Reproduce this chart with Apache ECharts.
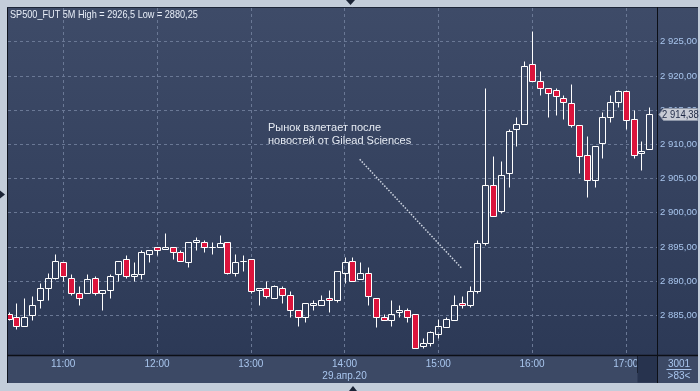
<!DOCTYPE html>
<html>
<head>
<meta charset="utf-8">
<script src="https://cdn.jsdelivr.net/npm/echarts@6/dist/echarts.min.js"></script>
<style>html,body{margin:0;padding:0;background:#c3cdda;}#chart{width:700px;height:391px;}</style>
</head>
<body>
<div id="chart"></div>
<script>
// ---- data (5-minute bars, SP500 futures, 29.04.20) ----
var times = ['10:25','10:30','10:35','10:40','10:45','10:50','10:55','11:00','11:05','11:10','11:15','11:20','11:25','11:30','11:35','11:40','11:45','11:50','11:55','12:00','12:05','12:10','12:15','12:20','12:25','12:30','12:35','12:40','12:45','12:50','12:55','13:00','13:05','13:10','13:15','13:20','13:25','13:30','13:35','13:40','13:45','13:50','13:55','14:00','14:05','14:10','14:15','14:20','14:25','14:30','14:35','14:40','14:45','14:50','14:55','15:00','15:05','15:10','15:15','15:20','15:25','15:30','15:35','15:40','15:45','15:50','15:55','16:00','16:05','16:10','16:15','16:20','16:25','16:30','16:35','16:40','16:45','16:50','16:55','17:00','17:05','17:10','17:15'];
var opens = [2885.25,2884.75,2883.5,2885,2887.25,2889,2890.5,2892.75,2890.5,2888.25,2888.25,2890.5,2888.25,2888.75,2891,2893.25,2890.75,2891,2894,2895,2894.75,2895,2894.25,2892.75,2895.75,2895.75,2895,2895,2895.75,2891.25,2893,2893.25,2888.75,2889,2887.5,2889,2888,2885.75,2884.75,2886.5,2886.5,2887.5,2887.25,2891.25,2893,2890.25,2891.25,2887.5,2884.75,2884.25,2885.5,2885.75,2885.25,2880.5,2881,2882.25,2883.25,2884.25,2886.75,2886.5,2888.5,2895.5,2904,2900.25,2905.75,2912.25,2913,2921.75,2919.25,2918.25,2918,2916.75,2916,2912.75,2908.5,2904.75,2910.25,2914,2916.25,2917.75,2913.75,2908.75,2909.25];
var closes = [2884.5,2883.5,2884.75,2886.5,2889,2890.5,2893,2890.75,2888.25,2887.5,2890.25,2888.25,2888.75,2890.75,2893,2890.75,2891,2894.25,2894.5,2894.5,2895,2894.25,2893,2895.75,2896,2895,2895,2895.5,2891.25,2892.75,2893,2888.5,2889,2887.75,2889.25,2888,2885.75,2884.75,2886.75,2886.75,2887.25,2887.25,2891.5,2892.75,2890,2891.25,2887.75,2884.75,2884.25,2885.25,2885.75,2884.75,2880.25,2881,2882.5,2883.5,2884.5,2886.5,2886.5,2888.5,2895.5,2904,2899.5,2905.5,2912,2913,2921.5,2919.25,2918.25,2917.5,2917,2916.25,2912.75,2908.25,2904.75,2909.75,2914,2916.25,2917.75,2913.5,2908.5,2909,2914.38];
var lows = [2884.25,2883,2883.5,2884.25,2886,2887.25,2890.25,2890,2888,2886.5,2888.25,2888,2885.75,2887.5,2890,2890.5,2890,2890.25,2892.75,2893.75,2894.75,2893.25,2893,2892,2894.5,2894.25,2894,2895,2891,2890.75,2891.5,2888.25,2886.5,2887.5,2887.5,2886.75,2884.75,2883.5,2884,2885.75,2886.5,2885.5,2887,2889.75,2890,2890.25,2886.5,2883.25,2884.25,2883.5,2884.75,2884,2880.25,2880.25,2880.5,2881.75,2883.25,2884.25,2886,2886.25,2888.25,2895.25,2899.5,2900,2903.75,2909.75,2913,2919.25,2917.25,2914,2914.25,2913.75,2912.5,2905.75,2902.25,2903.75,2908,2913.25,2915.5,2912.25,2908,2906.25,2909.25];
var highs = [2885.5,2886.75,2887.5,2887.75,2889.75,2891.25,2894,2892.75,2891,2889.25,2891,2890.75,2888.75,2891,2893,2893.75,2892.75,2894.5,2894.5,2895,2897,2895,2894.5,2895.75,2896.5,2896,2895.75,2896.75,2895.75,2894,2893.75,2893.25,2889,2890,2889.5,2889.25,2888.5,2885.75,2886.75,2887.25,2888,2888.75,2891.5,2893.5,2893.5,2892.75,2892,2887.5,2885.25,2887.25,2886.5,2886,2885.25,2881.75,2882.75,2884.5,2884.75,2888,2887.75,2889.25,2896,2918.25,2908.25,2907.5,2912.25,2914,2922.25,2926.5,2920.75,2918.25,2918.25,2917.25,2918.75,2912.75,2911.25,2909.75,2914.75,2917.25,2918,2918,2915,2910.5,2915.5];
var yTickValues = [2885, 2890, 2895, 2900, 2905, 2910, 2915, 2920, 2925];
var xTickLabels = ['11:00','12:00','13:00','14:00','15:00','16:00','17:00'];
var dateLabel = '29.апр.20';
var dateAtTick = '14:00';
var titleText = 'SP500_FUT 5M High = 2926,5 Low = 2880,25';
var noteText = 'Рынок взлетает после\nновостей от Gilead Sciences';
var barsText = ['3001', '>83<'];

// ---- helpers ----
function toMin(s){ var p = s.split(':'); return (+p[0]) * 60 + (+p[1]); }
function pad(n){ return (n < 10 ? '0' : '') + n; }
function minLabel(m){ return pad(Math.floor(m / 60)) + ':' + pad(Math.round(m % 60)); }
function priceFmt(v){
  var s = v.toFixed(2).split('.');
  var ip = s[0].replace(/\B(?=(\d{3})+(?!\d))/g, ' ');
  return ip + ',' + s[1];
}
var candleData = times.map(function(t, i){ return [toMin(t), opens[i], closes[i], lows[i], highs[i]]; });
var xTickValues = xTickLabels.map(toMin);

var FONT = "'Liberation Sans',Arial,sans-serif";
var AXIS_COLOR = '#a9c6ee';
var GRID_COLOR = '#6a7895';
var RED = '#dc143c';

var chart = echarts.init(document.getElementById('chart'), null, {renderer: 'canvas'});

var bgGrad = new echarts.graphic.LinearGradient(0, 0, 0, 1, [
  {offset: 0, color: '#3e4b68'},
  {offset: 1, color: '#2b3855'}
]);

var option = {
  backgroundColor: '#c3cdda',
  animation: false,
  grid: {left: 8, top: 8, right: 42.5, bottom: 35.5, containLabel: false, outerBoundsMode: 'none'},
  xAxis: {
    type: 'value',
    min: 624.64,
    max: 1040.27,
    axisLine: {show: false},
    axisTick: {show: false, customValues: xTickValues},
    axisLabel: {
      customValues: xTickValues,
      margin: 3,
      color: AXIS_COLOR,
      fontSize: 10,
      lineHeight: 11.5,
      fontFamily: FONT,
      formatter: function(v){
        var l = minLabel(v);
        return l === dateAtTick ? l + '\n' + dateLabel : l;
      }
    },
    splitLine: {show: true, lineStyle: {color: GRID_COLOR, type: [3, 3], width: 1}}
  },
  yAxis: {
    type: 'value',
    position: 'right',
    min: 2879.12,
    max: 2929.93,
    scale: true,
    axisLine: {show: false},
    axisTick: {show: false, customValues: yTickValues},
    axisLabel: {
      customValues: yTickValues,
      margin: 2.5,
      color: AXIS_COLOR,
      fontSize: 9.5,
      fontFamily: FONT,
      formatter: function(v){ return priceFmt(v); }
    },
    splitLine: {show: true, lineStyle: {color: GRID_COLOR, type: [3, 3], width: 1}}
  },
  series: [{
    type: 'custom',
    clip: true,
    data: candleData,
    encode: {x: 0, y: [1, 2, 3, 4]},
    renderItem: function(params, api){
      var t = api.value(0), o = api.value(1), c = api.value(2), l = api.value(3), h = api.value(4);
      var pO = api.coord([t, o]), pC = api.coord([t, c]);
      var pL = api.coord([t, l]), pH = api.coord([t, h]);
      var x = Math.round(pO[0]) + 0.5;
      var top = Math.round(Math.min(pO[1], pC[1])) + 0.5;
      var bot = Math.round(Math.max(pO[1], pC[1])) + 0.5;
      var yH = Math.round(pH[1]) + 0.5, yL = Math.round(pL[1]) + 0.5;
      var down = c < o;
      return {
        type: 'group',
        children: [
          {type: 'line', shape: {x1: x, y1: yH, x2: x, y2: top}, style: {stroke: '#ffffff', lineWidth: 1}},
          {type: 'line', shape: {x1: x, y1: bot, x2: x, y2: yL}, style: {stroke: '#ffffff', lineWidth: 1}},
          {type: 'rect', shape: {x: x - 3, y: top, width: 6, height: Math.max(bot - top, 0)},
           style: {fill: down ? RED : 'rgba(0,0,0,0)', stroke: '#ffffff', lineWidth: 1}}
        ]
      };
    },
    markLine: {
      silent: true,
      symbol: ['none', 'none'],
      label: {show: false},
      lineStyle: {color: '#cfd6e2', type: [1.5, 1.5], width: 1.5},
      data: [[{coord: [849.7, 2907.8]}, {coord: [914.9, 2891.9]}]]
    },
    z: 5
  }],
  graphic: [
    {type: 'rect', z: -20, silent: true, shape: {x: 7, y: 7, width: 691, height: 376}, style: {fill: bgGrad}},
    {type: 'rect', z: -19, silent: true, shape: {x: 8, y: 356, width: 650, height: 27}, style: {fill: '#3c4965'}},
    {type: 'rect', z: -19, silent: true, shape: {x: 658, y: 356, width: 40, height: 27}, style: {fill: '#3c4965'}},
    {type: 'rect', z: -18, silent: true, shape: {x: 637.5, y: 356.5, width: 19.5, height: 26}, style: {fill: '#27334e'}},
    {type: 'line', z: 50, silent: true, shape: {x1: 637.5, y1: 356, x2: 637.5, y2: 373}, style: {stroke: '#1a2233', lineWidth: 1}},
    {type: 'line', z: 50, silent: true, shape: {x1: 7.5, y1: 7, x2: 7.5, y2: 383}, style: {stroke: '#10151f', lineWidth: 1}},
    {type: 'line', z: 50, silent: true, shape: {x1: 7, y1: 7.5, x2: 698, y2: 7.5}, style: {stroke: '#1c2538', lineWidth: 1}},
    {type: 'line', z: 50, silent: true, shape: {x1: 7, y1: 355.5, x2: 698, y2: 355.5}, style: {stroke: '#0c0f16', lineWidth: 1.5}},
    {type: 'line', z: 50, silent: true, shape: {x1: 657.5, y1: 7, x2: 657.5, y2: 383}, style: {stroke: '#0c0f16', lineWidth: 1}},
    {type: 'line', z: 50, silent: true, shape: {x1: 666.5, y1: 369.5, x2: 691.5, y2: 369.5}, style: {stroke: '#a9c6ee', lineWidth: 1}},
    {type: 'text', z: 50, silent: true, x: 679, y: 364, style: {text: barsText[0], fill: AXIS_COLOR, font: '10px ' + FONT, align: 'center', verticalAlign: 'middle'}},
    {type: 'text', z: 50, silent: true, x: 679, y: 376, style: {text: barsText[1], fill: AXIS_COLOR, font: '10px ' + FONT, align: 'center', verticalAlign: 'middle'}},
    {type: 'text', z: 50, silent: true, x: 10, y: 15, scaleX: 0.83, style: {text: titleText, fill: '#e8eef8', font: '11px ' + FONT, verticalAlign: 'middle'}},
    {type: 'text', z: 50, silent: true, x: 268, y: 121, style: {text: noteText, fill: '#e6ebf3', font: '11px ' + FONT, lineHeight: 13.5, verticalAlign: 'top'}},
    {type: 'polygon', z: 50, silent: true, shape: {points: [[346, 0], [355, 0], [350.5, 5]]}, style: {fill: '#1b2436'}},
    {type: 'polygon', z: 50, silent: true, shape: {points: [[349, 391], [357, 391], [353, 386]]}, style: {fill: '#1b2436'}},
    {type: 'polygon', z: 50, silent: true, shape: {points: [[0, 190.5], [0, 198.5], [5, 194.5]]}, style: {fill: '#1b2436'}}
  ]
};
chart.setOption(option);

// last price tag on the right axis
var lastClose = closes[closes.length - 1];
var ty = Math.round(chart.convertToPixel({yAxisIndex: 0}, lastClose)) + 0.5;
chart.setOption({
  graphic: option.graphic.concat([
    {type: 'polygon', z: 60, silent: true,
     shape: {points: [[659, ty], [663.5, ty - 6], [697.5, ty - 6], [697.5, ty + 6], [663.5, ty + 6]]},
     style: {fill: '#c8ccd5', stroke: '#8d96a8', lineWidth: 1}},
    {type: 'text', z: 61, silent: true, x: 662, y: ty + 0.5, scaleX: 0.86,
     style: {text: priceFmt(lastClose), fill: '#1f2a46', font: '11px ' + FONT, verticalAlign: 'middle'}}
  ])
}, {replaceMerge: ['graphic']});
</script>
</body>
</html>
